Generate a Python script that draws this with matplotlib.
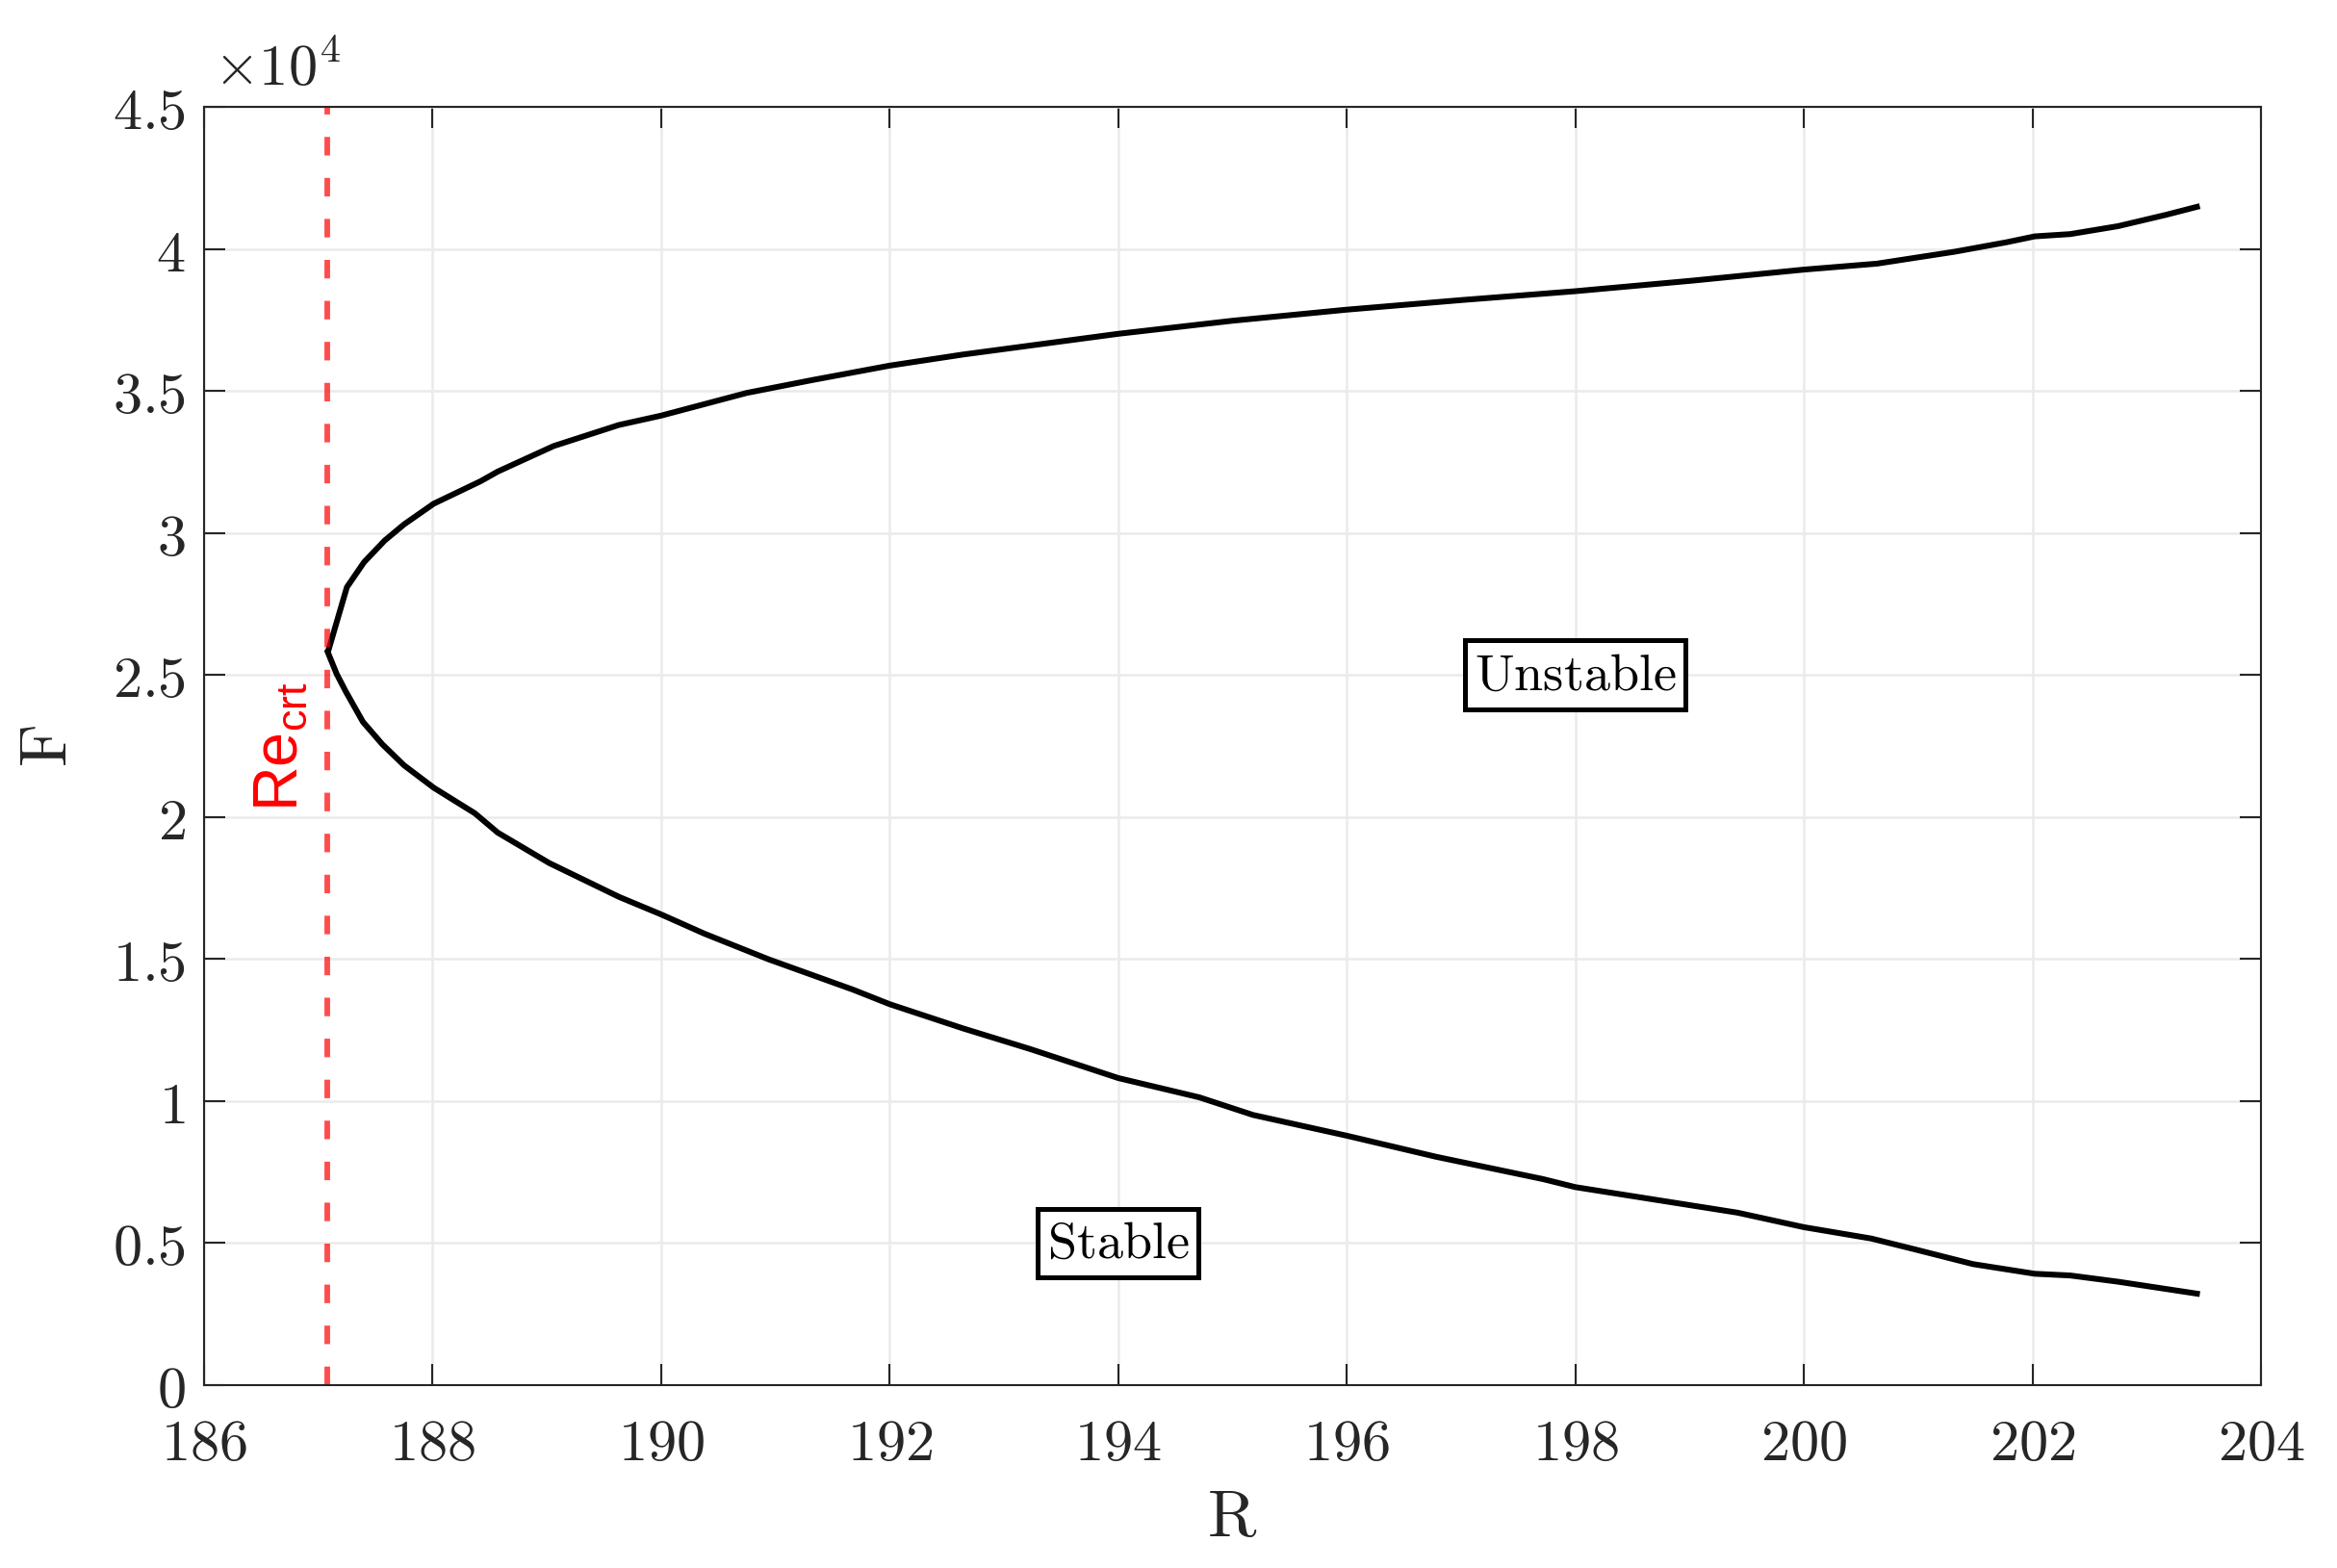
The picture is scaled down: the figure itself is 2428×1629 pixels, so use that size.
import matplotlib
matplotlib.use("Agg")
import matplotlib.pyplot as plt
import numpy as np
from matplotlib.ticker import FuncFormatter, MultipleLocator

# neutral stability curve
r_upper = [187.09, 187.25, 187.40, 187.58, 187.75, 188.01, 188.42, 188.57, 189.06,
           189.63, 190.00, 190.75, 191.32, 192.00, 192.64, 194.00, 195.00, 196.00,
           197.01, 198.00, 199.02, 200.00, 200.64, 201.32, 201.77, 202.02, 202.33,
           202.75, 203.17, 203.44]
f_upper = [25890, 28090, 28970, 29730, 30300, 31030, 31820, 32160, 33060,
           33800, 34130, 34930, 35380, 35890, 36280, 37010, 37470, 37860,
           38200, 38510, 38880, 39270, 39480, 39900, 40230, 40440, 40520,
           40800, 41200, 41480]

r_lower = [187.16, 187.24, 187.39, 187.56, 187.75, 188.01, 188.37, 188.57, 189.02,
           189.63, 190.00, 190.38, 190.94, 191.68, 192.00, 192.64, 193.23, 194.00,
           194.71, 195.18, 196.00, 196.78, 197.72, 198.00, 199.42, 200.00, 200.59,
           200.98, 201.48, 202.02, 202.33, 202.75, 203.44]
f_lower = [25040, 24420, 23350, 22560, 21820, 21030, 20130, 19450, 18380,
           17190, 16570, 15890, 14990, 13920, 13410, 12560, 11830, 10810,
           10130, 9510, 8780, 8040, 7250, 6970, 6070, 5560, 5160,
           4770, 4260, 3920, 3860, 3640, 3220]

RE_CRT = 187.08

plt.rcParams["mathtext.fontset"] = "cm"
plt.rcParams["mathtext.rm"] = "Liberation Sans"
plt.rcParams["mathtext.it"] = "Liberation Sans:italic"
plt.rcParams["mathtext.bf"] = "Liberation Sans:bold"

W, H, DPI = 2429, 1629, 300
fig = plt.figure(figsize=(W / DPI, H / DPI), dpi=DPI)
ax = fig.add_axes([212 / W, 1 - 1439 / H, (2349 - 212) / W, (1439 - 111) / H])

# one path: top end -> cusp -> bottom end
r_all = r_upper[::-1] + [RE_CRT] + r_lower
f_all = f_upper[::-1] + [25830] + f_lower
ax.plot(r_all, f_all, color="black", lw=1.45, solid_joinstyle="miter")

ax.axvline(RE_CRT, color="red", alpha=0.7, lw=1.4, linestyle=(0, (3.3, 4.0)))

ax.set_xlim(186, 204)
ax.set_ylim(0, 45000)
ax.xaxis.set_major_locator(MultipleLocator(2))
ax.yaxis.set_major_locator(MultipleLocator(5000))
ax.xaxis.set_major_formatter(FuncFormatter(lambda v, p: "$%g$" % v))
ax.yaxis.set_major_formatter(FuncFormatter(lambda v, p: "$%g$" % (v / 1e4)))

ax.grid(True, color="#ebebeb", lw=0.6)
ax.set_axisbelow(True)
for s in ax.spines.values():
    s.set_color("#262626")
    s.set_linewidth(0.5)
ax.tick_params(direction="in", top=True, right=True, length=5.3, width=0.5,
               colors="#262626", labelsize=14.5)
ax.tick_params(axis="x", pad=7.8)
ax.tick_params(axis="y", pad=4.6)

ax.set_xlabel(r"$\mathrm{R}$", fontsize=16.5, color="#262626", labelpad=3)
ax.set_ylabel(r"$\mathrm{F}$", fontsize=16.5, color="#262626", labelpad=8)

ax.text(0.0047, 1.0166, r"$\times10^{4}$", transform=ax.transAxes, fontsize=14.5,
        color="#262626", ha="left", va="baseline")

box = dict(boxstyle="square,pad=0.18", fc="white", ec="black", lw=1.2)
ax.text(198.0, 25000, r"$\mathrm{Unstable}$", fontsize=13, ha="center", va="center", bbox=box)
ax.text(194.0, 5000, r"$\mathrm{Stable}$", fontsize=13, ha="center", va="center", bbox=box)

ax.text(186.66, 22500, r"$\mathrm{Re}_{\mathrm{crt}}$", color="red", fontsize=15.5,
        rotation=90, ha="center", va="center", math_fontfamily="custom")

fig.savefig("out.png", dpi=DPI)
